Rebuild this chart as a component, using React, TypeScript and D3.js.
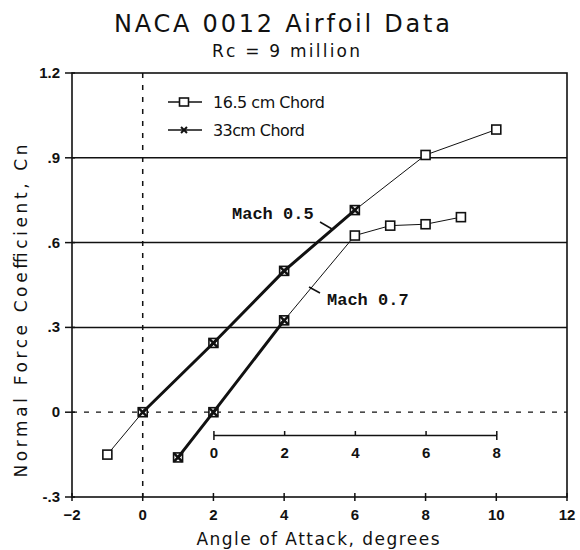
import { useEffect, useRef } from 'react';
import { axisBottom, line, scaleLinear, select, symbol, symbolTimes } from 'd3';

// Mach 0.5
const angles05Small = [-1, 0, 2, 4, 6, 8, 10];
const cn05Small = [-0.15, 0, 0.245, 0.5, 0.715, 0.91, 1.0];
const angles05Large = [0, 2, 4, 6];
const cn05Large = [0, 0.245, 0.5, 0.715];

// Mach 0.7
const angles07Small = [1, 2, 4, 6, 7, 8, 9];
const cn07Small = [-0.16, 0, 0.325, 0.625, 0.66, 0.665, 0.69];
const angles07Large = [1, 2, 4];
const cn07Large = [-0.16, 0, 0.325];

const xTicks = [-2, 0, 2, 4, 6, 8, 10, 12];
const yTicks = [-0.3, 0, 0.3, 0.6, 0.9, 1.2];
const yTickLabels = ['-.3', '0', '.3', '.6', '.9', '1.2'];
const gridValues = [0.3, 0.6, 0.9];
const offsetTicks = [0, 2, 4, 6, 8];

const width = 580;
const height = 550;
const sans = 'DejaVu Sans, Liberation Sans, sans-serif';
const tickFont = 'Liberation Sans, Arial, sans-serif';
const mono = 'Liberation Mono, Courier New, monospace';

const x = scaleLinear().domain([-2, 12]).range([72, 567]);
const y = scaleLinear().domain([-0.3, 1.2]).range([497, 73]);
const xOffset = scaleLinear().domain([0, 8]).range([x(2), x(10)]);

const App = () => {
  const svgRef = useRef<SVGSVGElement>(null);

  useEffect(() => {
    const svg = select(svgRef.current);
    svg.selectAll('*').remove();
    const g = svg.append('g');

    const ink = '#111';
    const [x0, x1] = x.range();
    const [yb, yt] = y.range();

    // grid lines
    g.selectAll('line.grid')
      .data(gridValues)
      .join('line')
      .attr('class', 'grid')
      .attr('x1', x0)
      .attr('x2', x1)
      .attr('y1', (d) => y(d))
      .attr('y2', (d) => y(d))
      .attr('stroke', ink)
      .attr('stroke-width', 1.5);

    // dashed zero lines
    g.append('line')
      .attr('x1', x0)
      .attr('x2', x1)
      .attr('y1', y(0))
      .attr('y2', y(0))
      .attr('stroke', ink)
      .attr('stroke-width', 1.2)
      .attr('stroke-dasharray', '5,7');
    g.append('line')
      .attr('x1', x(0))
      .attr('x2', x(0))
      .attr('y1', yt)
      .attr('y2', yb)
      .attr('stroke', ink)
      .attr('stroke-width', 1.5)
      .attr('stroke-dasharray', '5,7');

    // frame
    g.append('rect')
      .attr('x', x0)
      .attr('y', yt)
      .attr('width', x1 - x0)
      .attr('height', yb - yt)
      .attr('fill', 'none')
      .attr('stroke', ink)
      .attr('stroke-width', 1.6);

    // x ticks
    g.selectAll('line.xtick')
      .data(xTicks)
      .join('line')
      .attr('class', 'xtick')
      .attr('x1', (d) => x(d))
      .attr('x2', (d) => x(d))
      .attr('y1', yb - 4)
      .attr('y2', yb + 4)
      .attr('stroke', ink)
      .attr('stroke-width', 1.5);
    g.selectAll('text.xlab')
      .data(xTicks)
      .join('text')
      .attr('class', 'xlab')
      .attr('x', (d) => x(d))
      .attr('y', yb + 23)
      .attr('text-anchor', 'middle')
      .attr('font-family', tickFont)
      .attr('font-size', 15)
      .attr('font-weight', 'bold')
      .attr('fill', ink)
      .text((d) => (d < 0 ? '\u2212' + Math.abs(d) : String(d)));

    // y ticks
    g.selectAll('line.ytick')
      .data(yTicks)
      .join('line')
      .attr('class', 'ytick')
      .attr('x1', x0 - 7)
      .attr('x2', x0 + 3)
      .attr('y1', (d) => y(d))
      .attr('y2', (d) => y(d))
      .attr('stroke', ink)
      .attr('stroke-width', 1.5);
    g.selectAll('text.ylab')
      .data(yTicks)
      .join('text')
      .attr('class', 'ylab')
      .attr('x', x0 - 12)
      .attr('y', (d) => y(d) + 5)
      .attr('text-anchor', 'end')
      .attr('font-family', tickFont)
      .attr('font-size', 15)
      .attr('font-weight', 'bold')
      .attr('fill', ink)
      .text((d, i) => yTickLabels[i]);

    // offset axis for the shifted scale
    const offAxis = g
      .append('g')
      .attr('transform', `translate(0, 435)`)
      .call(
        axisBottom(xOffset)
          .tickValues(offsetTicks)
          .tickSizeInner(-4)
          .tickSizeOuter(5)
          .tickPadding(12)
          .tickFormat((d) => String(d)),
      );
    offAxis.select('.domain').attr('stroke', ink).attr('stroke-width', 1.5);
    offAxis.selectAll('.tick line').attr('stroke', ink).attr('stroke-width', 1.5);
    offAxis
      .selectAll('.tick text')
      .attr('font-family', tickFont)
      .attr('font-size', 15)
      .attr('font-weight', 'bold')
      .attr('fill', ink);

    const path = line<[number, number]>()
      .x((d) => x(d[0]))
      .y((d) => y(d[1]));

    const series = [
      { xs: angles05Small, ys: cn05Small, w: 1, mark: 'square' },
      { xs: angles07Small, ys: cn07Small, w: 1, mark: 'square' },
      { xs: angles05Large, ys: cn05Large, w: 3, mark: 'times' },
      { xs: angles07Large, ys: cn07Large, w: 3, mark: 'times' },
    ];

    const timesPath = symbol().type(symbolTimes).size(45)()!;

    series.forEach((s) => {
      const pts = s.xs.map((a, i) => [a, s.ys[i]] as [number, number]);
      g.append('path')
        .attr('d', path(pts))
        .attr('fill', 'none')
        .attr('stroke', ink)
        .attr('stroke-width', s.w);
      if (s.mark === 'square') {
        g.selectAll(null)
          .data(pts)
          .join('rect')
          .attr('x', (d) => x(d[0]) - 4.5)
          .attr('y', (d) => y(d[1]) - 4.5)
          .attr('width', 9)
          .attr('height', 9)
          .attr('fill', 'white')
          .attr('stroke', ink)
          .attr('stroke-width', 1.6);
      } else {
        g.selectAll(null)
          .data(pts)
          .join('path')
          .attr('transform', (d) => `translate(${x(d[0])},${y(d[1])})`)
          .attr('d', timesPath)
          .attr('fill', 'none')
          .attr('stroke', ink)
          .attr('stroke-width', 2.5);
      }
    });

    // legend
    const legend = g.append('g');
    const lx = 168;
    [
      { label: '16.5 cm Chord', ly: 102, mark: 'square', len: 112 },
      { label: '33cm Chord', ly: 130, mark: 'times', len: 92 },
    ].forEach((l) => {
      legend
        .append('line')
        .attr('x1', lx)
        .attr('x2', lx + 34)
        .attr('y1', l.ly)
        .attr('y2', l.ly)
        .attr('stroke', ink)
        .attr('stroke-width', 1.5);
      if (l.mark === 'square') {
        legend
          .append('rect')
          .attr('x', lx + 16 - 4.5)
          .attr('y', l.ly - 4)
          .attr('width', 9)
          .attr('height', 8)
          .attr('fill', 'white')
          .attr('stroke', ink)
          .attr('stroke-width', 1.6);
      } else {
        legend
          .append('path')
          .attr('transform', `translate(${lx + 16},${l.ly})`)
          .attr('d', symbol().type(symbolTimes).size(25)()!)
          .attr('stroke', ink)
          .attr('stroke-width', 2);
      }
      legend
        .append('text')
        .attr('x', lx + 45)
        .attr('y', l.ly + 6)
        .attr('font-family', sans)
        .attr('font-size', 16)
        .attr('textLength', l.len)
        .attr('lengthAdjust', 'spacing')
        .attr('fill', ink)
        .text(l.label);
    });

    // annotations
    const notes = [
      { text: 'Mach 0.5', tx: 232, ty: 219, lx1: 320, ly1: 222, lx2: 332, ly2: 229 },
      { text: 'Mach 0.7', tx: 327, ty: 305, lx1: 309, ly1: 287, lx2: 320, ly2: 293 },
    ];
    notes.forEach((n) => {
      g.append('text')
        .attr('x', n.tx)
        .attr('y', n.ty)
        .attr('font-family', mono)
        .attr('font-size', 17)
        .attr('font-weight', 'bold')
        .attr('fill', ink)
        .text(n.text);
      g.append('line')
        .attr('x1', n.lx1)
        .attr('y1', n.ly1)
        .attr('x2', n.lx2)
        .attr('y2', n.ly2)
        .attr('stroke', ink)
        .attr('stroke-width', 1.5);
    });

    // titles
    g.append('text')
      .attr('x', 282)
      .attr('y', 32)
      .attr('text-anchor', 'middle')
      .attr('font-family', sans)
      .attr('font-size', 24)
      .attr('textLength', 336)
      .attr('lengthAdjust', 'spacing')
      .attr('fill', ink)
      .text('NACA 0012 Airfoil Data');
    g.append('text')
      .attr('x', 286)
      .attr('y', 57)
      .attr('text-anchor', 'middle')
      .attr('font-family', sans)
      .attr('font-size', 17)
      .attr('textLength', 148)
      .attr('lengthAdjust', 'spacing')
      .attr('fill', ink)
      .text('Rc = 9 million');
    g.append('text')
      .attr('x', 318)
      .attr('y', 545)
      .attr('text-anchor', 'middle')
      .attr('font-family', sans)
      .attr('font-size', 17)
      .attr('textLength', 243)
      .attr('lengthAdjust', 'spacing')
      .attr('fill', ink)
      .text('Angle of Attack, degrees');
    g.append('text')
      .attr('transform', `translate(27, 311) rotate(-90)`)
      .attr('text-anchor', 'middle')
      .attr('font-family', sans)
      .attr('font-size', 17)
      .attr('textLength', 333)
      .attr('lengthAdjust', 'spacing')
      .attr('fill', ink)
      .text('Normal Force Coefficient, Cn');
  }, []);

  return (
    <svg
      ref={svgRef}
      width={width}
      height={height}
      style={{ position: 'absolute', left: 0, top: 0, background: 'white' }}
    />
  );
};

export default App;
